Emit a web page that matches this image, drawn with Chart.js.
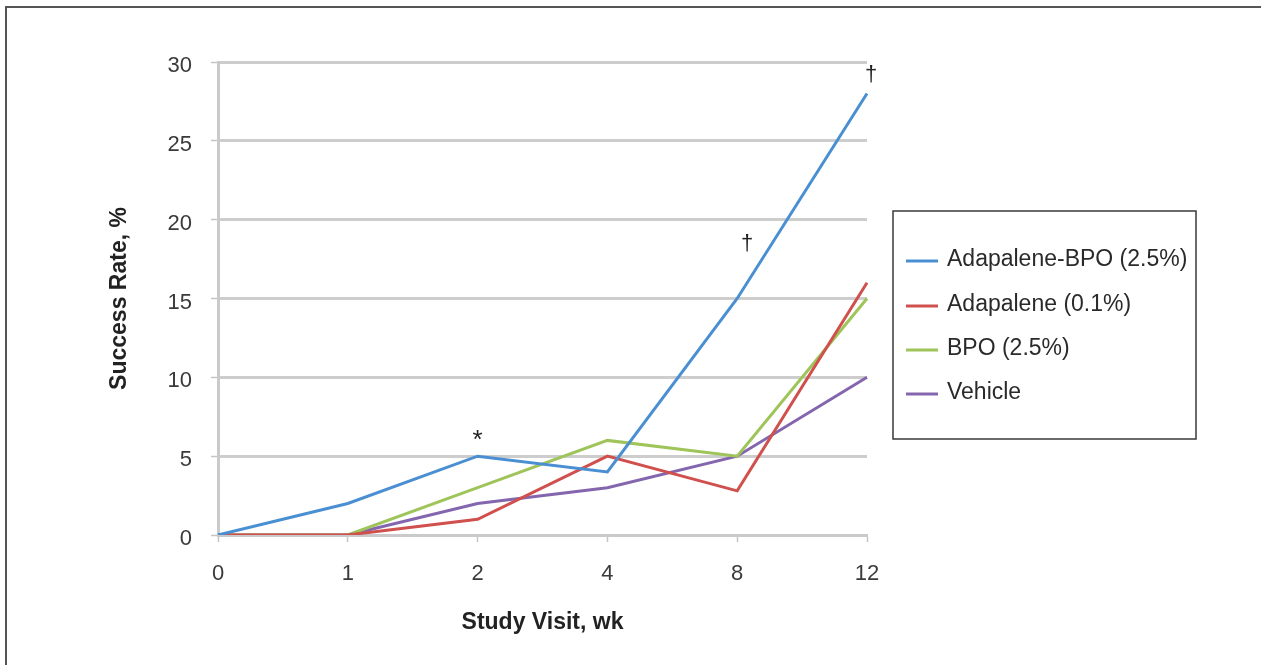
<!DOCTYPE html>
<html><head><meta charset="utf-8">
<script src="https://cdn.jsdelivr.net/npm/chart.js@4"></script>
<style>
html,body{margin:0;padding:0;background:#fff;overflow:hidden}
#wrap{position:relative;width:1261px;height:665px;overflow:hidden}
#frame{position:absolute;left:5px;top:6px;width:1300px;height:700px;border-top:2px solid #555;border-left:2px solid #555;pointer-events:none}
canvas{position:absolute;left:0;top:0}
</style></head><body>
<div id="wrap"><canvas id="c" width="1261" height="665"></canvas><div id="frame"></div></div>
<script>
// ---- data ----
const weeks = ['0', '1', '2', '4', '8', '12'];
const seriesNames = ['Adapalene-BPO (2.5%)', 'Adapalene (0.1%)', 'BPO (2.5%)', 'Vehicle'];
const adapaleneBPO = [0, 2, 5, 4, 15, 28];
const adapalene = [0, 0, 1, 5, 2.8, 16];
const bpo = [0, 0, 3, 6, 5, 15];
const vehicle = [0, 0, 2, 3, 5, 10];
const yMin = 0, yMax = 30, yStep = 5;
const markTexts = ['*', '†', '†'];
const markSeries = [0, 0, 0];
const markIndex = [2, 4, 5];

// ---- styles ----
const colors = ['#4A8FD2', '#D0504D', '#9EC45A', '#8466AE'];
const markOffsets = [{dx: 0, dy: -8}, {dx: 10, dy: -49}, {dx: 4, dy: -13}];
const markFontSizes = [26, 22, 22];
const FONT = '"Liberation Sans", Arial, Helvetica, sans-serif';
const legendBox = {x: 893, y: 211, w: 303, h: 228, rowY: [260, 305, 349, 393], lineX0: 906, lineX1: 938, textX: 947};

const values = [adapaleneBPO, adapalene, bpo, vehicle];

const overlay = {
  id: 'overlay',
  afterDatasetsDraw(chart) {
    const ctx = chart.ctx;
    ctx.save();
    // markers
    ctx.fillStyle = '#222';
    ctx.textAlign = 'center';
    ctx.textBaseline = 'alphabetic';
    markTexts.forEach((t, k) => {
      const meta = chart.getDatasetMeta(markSeries[k]);
      const pt = meta.data[markIndex[k]];
      ctx.font = markFontSizes[k] + 'px ' + FONT;
      ctx.fillText(t, pt.x + markOffsets[k].dx, pt.y + markOffsets[k].dy);
    });
    // legend
    const L = legendBox;
    ctx.strokeStyle = '#3a3a3a';
    ctx.lineWidth = 1.5;
    ctx.strokeRect(L.x, L.y, L.w, L.h);
    ctx.font = '23px ' + FONT;
    ctx.textAlign = 'left';
    ctx.textBaseline = 'middle';
    chart.data.datasets.forEach((ds, i) => {
      const y = L.rowY[i];
      ctx.strokeStyle = ds.borderColor;
      ctx.lineWidth = 3;
      ctx.beginPath();
      ctx.moveTo(L.lineX0, y + 1);
      ctx.lineTo(L.lineX1, y + 1);
      ctx.stroke();
      ctx.fillStyle = '#2a2a2a';
      ctx.fillText(ds.label, L.textX, y);
    });
    ctx.restore();
  }
};

new Chart(document.getElementById('c'), {
  type: 'line',
  data: {
    labels: weeks,
    datasets: seriesNames.map((n, i) => ({
      label: n,
      data: values[i],
      borderColor: colors[i],
      backgroundColor: colors[i],
      borderWidth: 3,
      pointRadius: 0,
      tension: 0,
      fill: false
    }))
  },
  options: {
    responsive: false,
    animation: false,
    devicePixelRatio: 1,
    layout: {padding: {left: 0, top: 62, right: 394, bottom: 0}},
    plugins: {legend: {display: false}, tooltip: {enabled: false}},
    scales: {
      x: {
        offset: false,
        grid: {display: true, drawOnChartArea: false, drawTicks: true, tickLength: 7, tickWidth: 1.5, tickColor: '#c4c4c4'},
        border: {display: true, color: '#cacaca', width: 3},
        ticks: {font: {family: FONT, size: 22}, color: '#3a3a3a', padding: 19, maxRotation: 0},
        title: {display: true, text: 'Study Visit, wk', font: {family: FONT, size: 23, weight: 'bold'}, color: '#222', padding: {top: 0, bottom: 29}},
        afterFit(s) { s.height = 130; }
      },
      y: {
        min: yMin, max: yMax,
        grid: {color: '#cdcdcd', lineWidth: 3, drawTicks: true, tickLength: 7, tickWidth: 1.5, tickColor: '#c4c4c4'},
        border: {display: true, color: '#cacaca', width: 3},
        ticks: {stepSize: yStep, font: {family: FONT, size: 22}, color: '#3a3a3a', padding: 19, labelOffset: 4},
        title: {display: true, text: 'Success Rate, %', font: {family: FONT, size: 23, weight: 'bold'}, color: '#222', padding: {top: 106, bottom: 0}},
        afterFit(s) { s.width = 218; }
      }
    }
  },
  plugins: [overlay]
});
</script>
</body></html>
